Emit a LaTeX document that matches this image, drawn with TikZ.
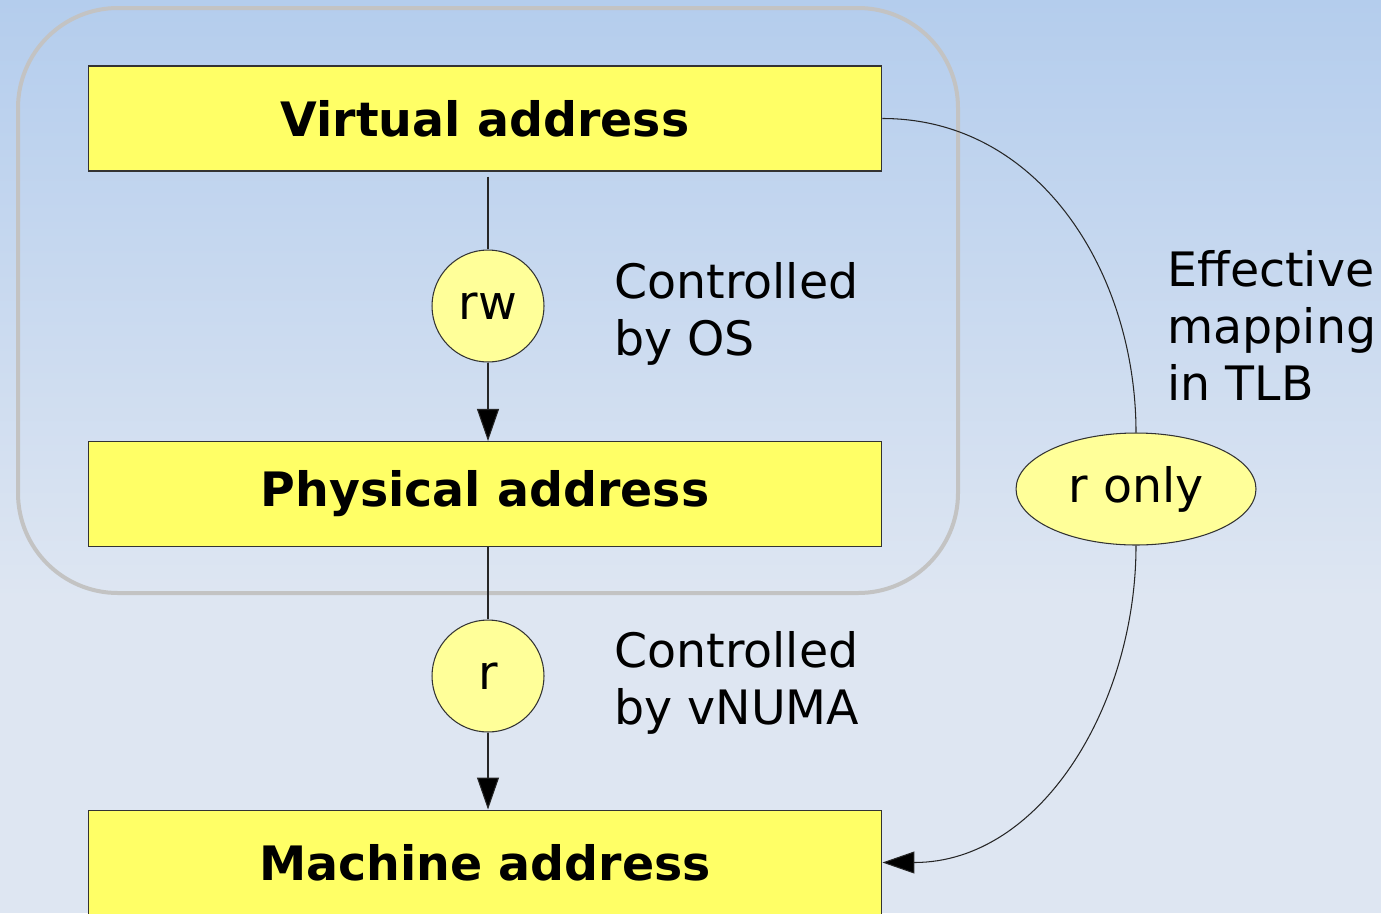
\documentclass[tikz,border=0pt]{standalone}
\usepackage{fontspec}
\setmainfont{DejaVu Sans}
\usetikzlibrary{arrows.meta,shapes.geometric}

\definecolor{boxyellow}{HTML}{FFFF66}
\definecolor{tagyellow}{HTML}{FFFF99}
\definecolor{bgtop}{RGB}{180,205,237}
\definecolor{bgbottom}{RGB}{222,230,242}
\definecolor{framegray}{RGB}{195,195,195}

\begin{document}
\begin{tikzpicture}[x=0.02cm,y=-0.02cm,
	font=\fontsize{27}{32.4}\selectfont,
	addr/.style={draw=black!80,line width=0.6pt,fill=boxyellow,minimum width=15.88cm,minimum height=2.1cm,inner sep=0pt,font=\fontsize{27}{32.4}\selectfont\bfseries},
	perm/.style={shape=circle,draw=black!80,line width=0.6pt,fill=tagyellow,minimum size=2.24cm,inner sep=0pt},
	tlb/.style={shape=ellipse,draw=black!80,line width=0.6pt,fill=tagyellow,minimum width=4.8cm,minimum height=2.24cm,inner sep=0pt},
	note/.style={align=left,anchor=base west,inner sep=0pt},
	link/.style={draw=black!85,line width=0.6pt},
	tip/.style={-{Triangle[length=0.64cm,width=0.44cm]}}]
	% background and frame
	\clip (0,0) rectangle (1381,913);
	\shade[top color=bgtop,bottom color=bgbottom] (0,0) rectangle (1381,600);
	\fill[bgbottom] (0,599) rectangle (1381,913);
	\draw[framegray,line width=0.08cm,rounded corners=2cm] (18,8) rectangle (958,593);
	% address boxes
	\node[addr] (virt) at (485,118.5) {Virtual address};
	\node[addr] (phys) at (485,494) {Physical address};
	\node[addr] (mach) at (485,862.5) {Machine address};
	% permissions
	\node[perm] (rw) at (488,306) {rw};
	\node[perm] (r) at (488,676) {r};
	\node[tlb] (ronly) at (1136,489) {r only};
	% notes
	\node[note] (os) at (614,355) {Controlled\\by OS};
	\node[note] (vnuma) at (614,724) {Controlled\\by vNUMA};
	\node[note] (eff) at (1167,400) {Effective\\mapping\\in TLB};
	% connectors
	\path [link] (rw |- virt.south) ++(0,5) edge (rw);
	\path [link] (rw) edge[tip] (rw |- phys.north);
	\path [link] (r |- phys.south) edge (r);
	\path [link] (r) edge[tip] (r |- mach.north);
	\path [link] (virt.east) edge[out=0,in=90] (ronly.north);
	\path [link] (ronly.south) edge[tip,out=-90,in=0] (mach.east);
\end{tikzpicture}
\end{document}
